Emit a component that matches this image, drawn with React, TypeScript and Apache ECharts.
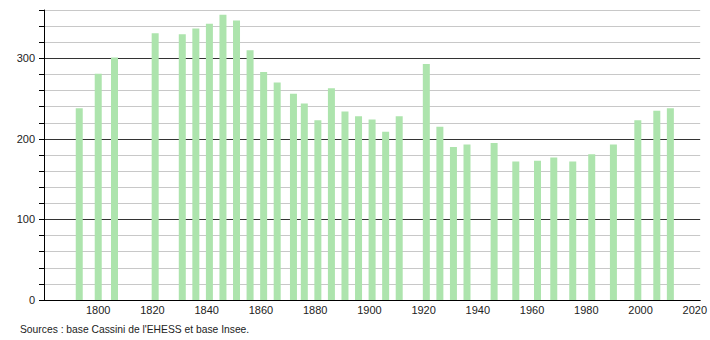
import React, { useEffect, useRef } from "react";
import * as echarts from "echarts";

const years = [1793, 1800, 1806, 1821, 1831, 1836, 1841, 1846, 1851, 1856, 1861, 1866, 1872, 1876, 1881, 1886, 1891, 1896, 1901, 1906, 1911, 1921, 1926, 1931, 1936, 1946, 1954, 1962, 1968, 1975, 1982, 1990, 1999, 2006, 2011];
const population = [238, 281, 301, 331, 330, 337, 343, 354, 347, 310, 283, 270, 256, 244, 223, 263, 234, 228, 224, 209, 228, 293, 215, 190, 193, 195, 172, 173, 177, 172, 181, 193, 223, 235, 238];
const xTickLabels = [1800, 1820, 1840, 1860, 1880, 1900, 1920, 1940, 1960, 1980, 2000, 2020];
const yTickLabels = [0, 100, 200, 300];
const sourceText = "Sources : base Cassini de l'EHESS et base Insee.";

export default function App() {
  const ref = useRef<HTMLDivElement>(null);
  useEffect(() => {
    const chart = echarts.init(ref.current!, null, { renderer: "svg" });
    const font = "Liberation Sans, Arial, sans-serif";
    chart.setOption({
      animation: false,
      grid: { left: 44, right: 9, top: 10, bottom: 40 },
      xAxis: {
        type: "value",
        min: 1780,
        max: 2022,
        interval: 20,
        axisLine: { show: true, lineStyle: { color: "#000", width: 1 } },
        axisTick: { show: false },
        splitLine: { show: false },
        axisLabel: {
          color: "#222",
          fontSize: 11,
          fontFamily: font,
          margin: 4,
          showMinLabel: true,
          showMaxLabel: true,
          formatter: (v: number) => (xTickLabels.includes(v) ? String(v) : ""),
        },
      },
      yAxis: {
        type: "value",
        min: 0,
        max: 360,
        interval: 20,
        axisLine: { show: true, lineStyle: { color: "#000", width: 1 } },
        axisTick: { show: true, length: 5, lineStyle: { color: "#000" } },
        splitLine: {
          show: true,
          lineStyle: { color: ["#333", "#c8c8c8", "#c8c8c8", "#c8c8c8", "#c8c8c8"], width: 1 },
        },
        axisLabel: {
          color: "#222",
          fontSize: 11,
          fontFamily: font,
          margin: 9,
          formatter: (v: number) => (yTickLabels.includes(v) ? String(v) : ""),
        },
      },
      graphic: [
        {
          type: "text",
          left: 20,
          top: 324,
          style: { text: sourceText, fontSize: 10.3, fontFamily: font, fill: "#222" },
        },
      ],
      series: [
        {
          type: "bar",
          barWidth: 7,
          itemStyle: { color: "#ade4ad" },
          data: years.map((y, i) => [y, population[i]]),
        },
      ],
    });
    return () => chart.dispose();
  }, []);
  return <div ref={ref} style={{ width: 710, height: 340, position: "absolute", left: 0, top: 0 }} />;
}
